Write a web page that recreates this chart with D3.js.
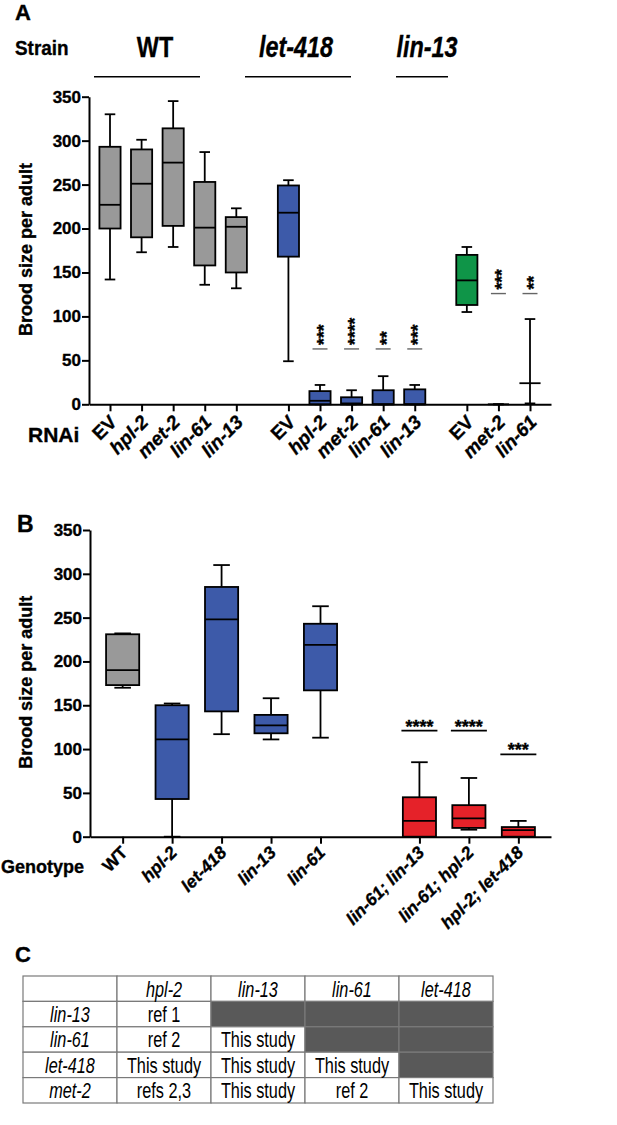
<!DOCTYPE html>
<meta charset="utf-8">
<script src="https://d3js.org/d3.v7.min.js"></script>
<style>
  body { margin: 0; background: #fff; }
  svg text { font-family: "Liberation Sans", Arial, sans-serif; }
  svg text.heavy { stroke: #000; stroke-width: 0.35px; }
</style>
<div id="fig"></div>
<script>

// ---- panel A: brood size per adult after RNAi, by strain ----
var strainA   = ["WT", "let-418", "lin-13"];
var rnaiA     = ["EV","hpl-2","met-2","lin-61","lin-13", "EV","hpl-2","met-2","lin-61","lin-13", "EV","met-2","lin-61"];
var strainOfA = [0,0,0,0,0, 1,1,1,1,1, 2,2,2];
var minA = [142, 173, 179, 136, 132,   49,  0,  0,  0,  0,  105, 0,  1];
var q1A  = [200, 190, 203, 158, 150,  168,  0,  0,  0,  0,  113, 0, 24];
var medA = [227, 251, 275, 201, 202,  218,  4,  1,  0,  0,  141, 0, 24];
var q3A  = [293, 290, 314, 253, 213,  249, 15,  8, 16, 17,  170, 0, 24];
var maxA = [330, 301, 345, 287, 223,  255, 22, 16, 32, 22,  179, 0, 97];
var starsA = ["","","","","", "","***","****","**","***", "","***","**"];
var starYA = [null,null,null,null,null, null,63,63,63,63, null,126,126];

// ---- panel B: brood size per adult, by genotype ----
var genoB  = ["WT","hpl-2","let-418","lin-13","lin-61","lin-61; lin-13","lin-61; hpl-2","hpl-2; let-418"];
var kindB  = ["wild type","single","single","single","single","double","double","double"];
var minB = [170,   0, 117, 111, 113,  0,  8,  0];
var q1B  = [173,  43, 143, 118, 167,  0, 10,  0];
var medB = [190, 111, 248, 127, 219, 18, 21,  7.6];
var q3B  = [231, 150, 285, 139, 243, 45, 36, 11];
var maxB = [232, 152, 310, 158, 263, 85, 67, 18];
var starsB = ["","","","","","****","****","***"];
var starYB = [null,null,null,null,null,121,121,94];

// ---- panel C: table of double mutant sources ----
var colHeads = ["", "hpl-2", "lin-13", "lin-61", "let-418"];
var rowHeads = ["lin-13", "lin-61", "let-418", "met-2"];
var cellText = [
  ["ref 1",      null,         null,         null],
  ["ref 2",      "This study", null,         null],
  ["This study", "This study", "This study", null],
  ["refs 2,3",   "This study", "ref 2",      "This study"]
];

var yTicks = d3.range(0, 351, 50);

var svg = d3.select("#fig").append("svg")
  .attr("width", 617)
  .attr("height", 1125);

var colorA = d3.scaleOrdinal().domain(strainA).range(["#999999", "#3d5aa9", "#0f9548"]);
var colorB = d3.scaleOrdinal().domain(["wild type","single","double"]).range(["#999999", "#3d5aa9", "#e52229"]);

function italicName(s) { return s != "EV" && s != "WT"; }

// draws one box plot panel
function boxPanel(p) {
  var g = svg.append("g");
  var x = d3.scaleLinear().domain(p.xDomain).range([p.left, p.right]);
  var y = d3.scaleLinear().domain([0, 350]).range([p.bottom, p.top]);
  var step = x(1) - x(0);
  var bw = step * 0.67, cw = bw / 2;

  var data = p.labels.map(function(l, i) {
    return {label: l, slot: p.slot[i], min: p.min[i], q1: p.q1[i], med: p.med[i],
            q3: p.q3[i], max: p.max[i], fill: p.fill[i], stars: p.stars[i], starY: p.starY[i]};
  });

  var box = g.selectAll("g.box").data(data).enter().append("g").attr("class", "box");
  // whiskers
  box.append("line")
    .attr("x1", function(d) { return x(d.slot); }).attr("x2", function(d) { return x(d.slot); })
    .attr("y1", function(d) { return y(d.max); }).attr("y2", function(d) { return y(d.min); })
    .attr("stroke", "#000").attr("stroke-width", 1.8);
  box.append("line")
    .attr("x1", function(d) { return x(d.slot) - cw / 2; }).attr("x2", function(d) { return x(d.slot) + cw / 2; })
    .attr("y1", function(d) { return y(d.max); }).attr("y2", function(d) { return y(d.max); })
    .attr("stroke", "#000").attr("stroke-width", 1.8);
  box.append("line")
    .attr("x1", function(d) { return x(d.slot) - cw / 2; }).attr("x2", function(d) { return x(d.slot) + cw / 2; })
    .attr("y1", function(d) { return y(d.min); }).attr("y2", function(d) { return y(d.min); })
    .attr("stroke", "#000").attr("stroke-width", 1.8);
  // boxes
  box.append("rect")
    .attr("x", function(d) { return x(d.slot) - bw / 2; })
    .attr("width", bw)
    .attr("y", function(d) { return y(d.q3); })
    .attr("height", function(d) { return y(d.q1) - y(d.q3); })
    .attr("fill", function(d) { return d.fill; })
    .attr("stroke", "#000").attr("stroke-width", 1.8);
  box.append("line")
    .attr("x1", function(d) { return x(d.slot) - bw / 2; }).attr("x2", function(d) { return x(d.slot) + bw / 2; })
    .attr("y1", function(d) { return y(d.med); }).attr("y2", function(d) { return y(d.med); })
    .attr("stroke", "#000").attr("stroke-width", 1.8);

  // significance marks
  var sig = g.selectAll("g.sig").data(data.filter(function(d) { return d.stars; }))
    .enter().append("g").attr("class", "sig");
  sig.append("line")
    .attr("x1", function(d) { return x(d.slot) - p.sigW / 2; }).attr("x2", function(d) { return x(d.slot) + p.sigW / 2; })
    .attr("y1", function(d) { return y(d.starY); }).attr("y2", function(d) { return y(d.starY); })
    .attr("stroke", p.sigColor).attr("stroke-width", p.sigStroke);
  if (p.verticalStars) {
    sig.append("text")
      .attr("class", "heavy")
      .attr("transform", function(d) { return "translate(" + (x(d.slot) + 9.5) + "," + (y(d.starY) - 4) + ") rotate(-90)"; })
      .attr("font-size", 17.5).attr("font-weight", "bold")
      .text(function(d) { return d.stars; });
  } else {
    sig.append("text")
      .attr("class", "heavy")
      .attr("x", function(d) { return x(d.slot); })
      .attr("y", function(d) { return y(d.starY) + 2; })
      .attr("text-anchor", "middle")
      .attr("font-size", 18).attr("font-weight", "bold")
      .text(function(d) { return d.stars; });
  }

  // axes
  var yAxis = g.append("g").attr("transform", "translate(" + p.left + ",0)")
    .call(d3.axisLeft(y).tickValues(yTicks).tickSize(7).tickSizeOuter(0).tickPadding(1));
  yAxis.selectAll("text").attr("class", "heavy").attr("font-size", 17).attr("font-weight", "bold")
    .attr("font-family", "Liberation Sans, Arial, sans-serif").attr("fill", "#000");
  var xAxis = g.append("g").attr("transform", "translate(0," + p.bottom + ")")
    .call(d3.axisBottom(x).tickValues(p.slot).tickSize(7).tickSizeOuter(0).tickFormat(""));
  g.selectAll(".domain, .tick line").attr("stroke", "#000").attr("stroke-width", 2);

  g.selectAll("text.xlab").data(data).enter().append("text")
    .attr("class", "xlab heavy")
    .attr("transform", function(d) { return "translate(" + (x(d.slot) + p.labelDx) + "," + (p.bottom + p.labelDy) + ") rotate(-45)"; })
    .attr("text-anchor", "end")
    .attr("font-size", p.labelSize).attr("font-weight", "bold")
    .attr("font-style", function(d) { return italicName(d.label) ? "italic" : "normal"; })
    .text(function(d) { return d.label; });

  g.append("text")
    .attr("class", "heavy")
    .attr("transform", "translate(32," + ((p.top + p.bottom) / 2 + p.titleShift) + ") rotate(-90)")
    .attr("text-anchor", "middle")
    .attr("font-size", 18).attr("font-weight", "bold")
    .text("Brood size per adult");

  return x;
}

// panel A
var xA = boxPanel({
  labels: rnaiA,
  slot: rnaiA.map(function(d, i) { return i + strainOfA[i] * 0.65; }),
  xDomain: [-0.665, 13.965], left: 89, right: 551, top: 96.7, bottom: 404.3,
  min: minA, q1: q1A, med: medA, q3: q3A, max: maxA,
  fill: strainOfA.map(function(s) { return colorA(strainA[s]); }),
  stars: starsA, starY: starYA,
  sigW: 15, sigColor: "#666", sigStroke: 1.4, verticalStars: true,
  labelSize: 19, labelDx: 8, labelDy: 19, titleShift: -1
});

// panel B
var xB = boxPanel({
  labels: genoB,
  slot: genoB.map(function(d, i) { return i + (kindB[i] == "double" ? 1 : 0); }),
  xDomain: [-0.66, 8.66], left: 90, right: 551, top: 530, bottom: 836.7,
  min: minB, q1: q1B, med: medB, q3: q3B, max: maxB,
  fill: kindB.map(function(k) { return colorB(k); }),
  stars: starsB, starY: starYB,
  sigW: 36, sigColor: "#000", sigStroke: 1.8, verticalStars: false,
  labelSize: 17.5, labelDx: 6, labelDy: 17, titleShift: -1
});

// panel letters and row titles
svg.append("text").attr("class", "heavy").attr("x", 15).attr("y", 20).attr("font-size", 22).attr("font-weight", "bold").text("A");
svg.append("text").attr("class", "heavy").attr("x", 17).attr("y", 532).attr("font-size", 23).attr("font-weight", "bold").text("B");
svg.append("text").attr("class", "heavy").attr("x", 15).attr("y", 962).attr("font-size", 22).attr("font-weight", "bold").text("C");

svg.append("text").attr("class", "heavy").attr("transform", "translate(15,55) scale(0.9,1)")
  .attr("font-size", 21).attr("font-weight", "bold").text("Strain");
svg.append("text").attr("class", "heavy").attr("x", 28).attr("y", 442).attr("font-size", 21).attr("font-weight", "bold").text("RNAi");
svg.append("text").attr("class", "heavy").attr("x", 1).attr("y", 873).attr("font-size", 18).attr("font-weight", "bold").text("Genotype");

// strain headers over panel A
var headX = [155, 296, 427];
var headLine = [[94, 200], [245, 351], [396, 448]];
strainA.forEach(function(s, i) {
  svg.append("text")
    .attr("class", "heavy")
    .attr("transform", "translate(" + headX[i] + ",57) scale(0.78,1)")
    .attr("text-anchor", "middle")
    .attr("font-size", 30).attr("font-weight", "bold")
    .attr("font-style", italicName(s) ? "italic" : "normal")
    .text(s);
  svg.append("line")
    .attr("x1", headLine[i][0]).attr("x2", headLine[i][1])
    .attr("y1", 76.7).attr("y2", 76.7)
    .attr("stroke", "#000").attr("stroke-width", 1.5);
});

// panel C table
var tx = d3.scaleBand().domain(d3.range(colHeads.length)).range([23, 493]);
var ty = d3.scaleBand().domain(d3.range(rowHeads.length + 1)).range([976, 1103]);
var cells = [];
colHeads.forEach(function(c, j) { cells.push({r: 0, c: j, text: c, italic: true, dark: false}); });
rowHeads.forEach(function(rh, i) {
  cells.push({r: i + 1, c: 0, text: rh, italic: true, dark: false});
  cellText[i].forEach(function(t, j) {
    cells.push({r: i + 1, c: j + 1, text: t, italic: false, dark: t === null});
  });
});

var table = svg.append("g");
table.selectAll("rect").data(cells).enter().append("rect")
  .attr("x", function(d) { return tx(d.c); })
  .attr("y", function(d) { return ty(d.r); })
  .attr("width", tx.bandwidth())
  .attr("height", ty.bandwidth())
  .attr("fill", function(d) { return d.dark ? "#595959" : "#fff"; })
  .attr("stroke", "#7a7a7a").attr("stroke-width", 1.2);
table.selectAll("text").data(cells.filter(function(d) { return d.text; })).enter().append("text")
  .attr("transform", function(d) {
    return "translate(" + (tx(d.c) + tx.bandwidth() / 2) + "," + (ty(d.r) + 20.5) + ") scale(0.74,1)";
  })
  .attr("text-anchor", "middle")
  .attr("font-size", 22)
  .attr("font-style", function(d) { return d.italic ? "italic" : "normal"; })
  .text(function(d) { return d.text; });

</script>
